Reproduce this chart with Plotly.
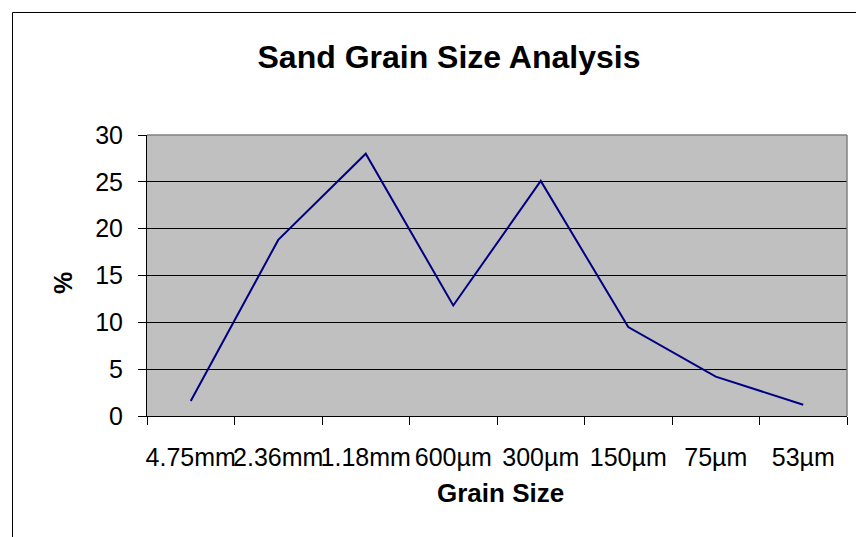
import plotly.graph_objects as go

categories = ["4.75mm", "2.36mm", "1.18mm", "600µm", "300µm", "150µm", "75µm", "53µm"]
percent = [1.6, 18.8, 28.0, 11.8, 25.1, 9.5, 4.2, 1.2]
y_ticks = [0, 5, 10, 15, 20, 25, 30]

W, H = 864, 537
OFF = 8  # page body margin
# plot area in screen pixels
SX0, SX1, SY0, SY1 = 147, 847, 135, 416
L = SX0 - OFF
T = SY0 - OFF
R = W - (SX1 - OFF)
B = H - (SY1 - OFF)
pw, ph = SX1 - SX0, SY1 - SY0

def px(xs):
    return (xs - SX0) / pw

def py(ys):
    return (SY1 - ys) / ph

font = "Liberation Sans, Arial, sans-serif"

fig = go.Figure()
fig.add_trace(go.Scatter(
    x=categories, y=percent, mode="lines",
    line=dict(color="#000080", width=2),
    showlegend=False, hoverinfo="x+y",
))

fig.update_layout(
    width=W, height=H,
    margin=dict(l=L, r=R, t=T, b=B, autoexpand=False),
    paper_bgcolor="white",
    plot_bgcolor="#C0C0C0",
    font=dict(family=font, color="black", size=25),
    title=dict(text="<b>Sand Grain Size Analysis</b>", x=(449 - OFF) / W, xanchor="center",
               y=1 - (57 - OFF) / H, yanchor="middle", font=dict(size=32, family=font, color="black")),
    xaxis=dict(
        type="category", range=[-0.5, 7.5], tickson="boundaries",
        ticks="outside", ticklen=8, tickcolor="black", tickwidth=1,
        showline=True, linecolor="black", linewidth=1,
        showgrid=False, zeroline=False, automargin=False, tickangle=0,
        tickfont=dict(size=25, family=font), ticklabelstandoff=19,
    ),
    yaxis=dict(
        range=[0, 30], tickvals=y_ticks, automargin=False,
        ticks="outside", ticklen=8, tickcolor="black", tickwidth=1,
        showline=True, linecolor="black", linewidth=1,
        showgrid=True, gridcolor="black", gridwidth=1, zeroline=False,
        tickfont=dict(size=25, family=font), ticklabelstandoff=10,
    ),
    shapes=[
        dict(type="line", xref="paper", yref="paper", x0=0, x1=1, y0=1, y1=1,
             line=dict(color="#808080", width=1.5), layer="above"),
        dict(type="line", xref="paper", yref="paper", x0=1, x1=1, y0=0, y1=1,
             line=dict(color="#808080", width=1.5), layer="above"),
        dict(type="rect", xref="paper", yref="paper",
             x0=px(12.5), x1=px(900), y0=py(600), y1=py(12.5),
             line=dict(color="black", width=1), layer="below"),
    ],
    annotations=[
        dict(text="<b>Grain Size</b>", xref="paper", yref="paper", x=px(500), y=py(493),
             showarrow=False, xanchor="center", yanchor="middle",
             font=dict(size=26, family=font, color="black")),
        dict(text="<b>%</b>", xref="paper", yref="paper", x=px(63), y=py(283),
             showarrow=False, xanchor="center", yanchor="middle", textangle=-90,
             font=dict(size=25, family=font, color="black")),
    ],
)

fig.write_html("out.html")
